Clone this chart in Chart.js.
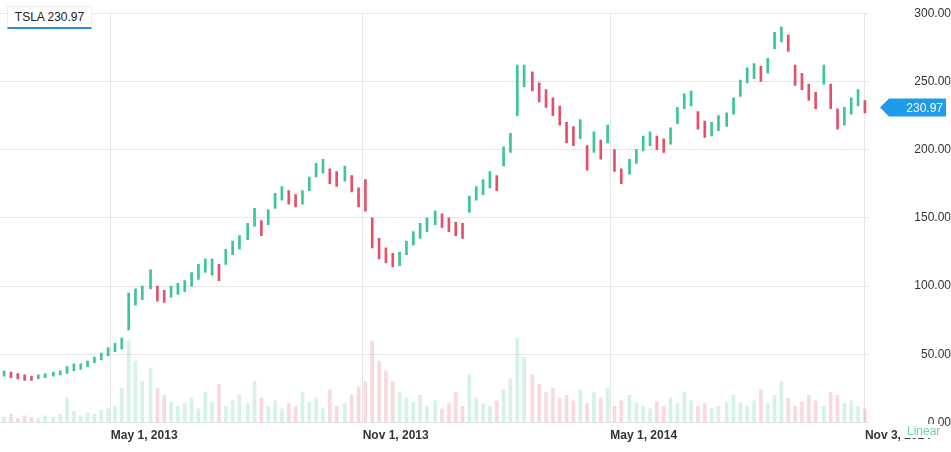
<!DOCTYPE html>
<html>
<head>
<meta charset="utf-8">
<script src="https://cdn.jsdelivr.net/npm/chart.js@4/dist/chart.umd.min.js"></script>
<style>
  body { margin: 0; background: #fff; font-family: "Liberation Sans", Arial, sans-serif; }
  #wrap { position: relative; width: 951px; height: 452px; }
  #title { position: absolute; left: 7px; top: 6px; width: 83px; height: 20px; border: 1px solid #eee;
           border-bottom: 2px solid #2a8fd6; font-size: 12px; color: #222; text-align: center; line-height: 20px; background: #fff; }
  #scaleType { position: absolute; left: 901px; top: 424px; padding-left: 6px; font-size: 12px; color: #6fd0c0; background: #fff; }
</style>
</head>
<body>
<div id="wrap">
  <canvas id="chart" width="951" height="452"></canvas>
  <div id="title">TSLA 230.97</div>
  <div id="scaleType">Linear</div>
</div>
<script>
// trading points, roughly every 5 calendar days from mid Feb 2013 (day 0)
const closes = [36,35,34,33,32,33,34,35,36,38,40,41,43,46,48,52,55,58,85,92,95,105,95,92,96,98,100,105,110,115,
  115,110,122,128,132,140,150,142,150,162,168,165,162,165,175,185,188,180,178,183,175,165,162,140,128,122,118,120,128,135,
  140,145,150,148,145,142,140,160,168,172,178,175,195,205,240,255,250,242,238,232,225,212,210,215,195,205,200,212,192,180,
  188,195,205,208,205,203,210,225,236,238,222,215,215,220,222,232,245,255,258,255,262,280,285,278,255,250,242,236,255,240,
  222,225,232,238,231];
const highs = [38,37,36,35,34,35,36,37,38,41,43,43,45,48,51,55,58,62,95,98,100,112,100,97,100,102,104,110,116,120,
  120,116,127,133,137,146,157,148,156,168,173,170,167,170,180,190,193,186,184,188,181,172,178,150,135,128,124,125,133,140,
  146,150,155,153,150,147,146,166,173,178,184,181,202,212,262,262,257,249,244,238,232,220,217,222,203,213,207,218,200,186,
  193,200,210,213,210,208,216,231,241,243,228,221,220,225,227,238,251,260,263,261,267,286,290,284,262,256,248,242,262,248,
  230,231,238,244,236];
const lows = [34,33,32,31,31,32,33,34,35,36,38,39,41,44,46,49,52,54,68,86,90,98,89,88,92,94,96,100,105,110,
  108,104,116,123,127,134,144,137,145,157,163,160,158,160,170,180,183,175,173,177,169,158,155,128,120,117,114,115,123,130,
  135,140,145,143,140,137,135,154,163,167,172,170,188,198,225,246,243,235,231,225,218,205,203,208,185,198,193,205,184,175,
  182,190,199,203,200,198,204,219,230,232,215,209,210,214,217,226,239,249,252,250,256,274,279,272,247,244,236,230,248,230,
  215,218,226,232,227];
const volumes = [4,6,3,5,4,3,5,4,6,18,8,5,7,6,9,10,12,25,
  60,45,30,40,25,20,15,
  12,14,18,10,22,15,28,12,16,20,14,30,18,12,16,10,14,12,22,15,18,10,24,12,14,20,26,30,
  60,45,38,30,22,18,15,20,
  12,16,10,14,22,12,35,18,14,12,16,24,32,
  62,48,35,28,22,25,18,
  20,16,24,14,22,18,25,12,16,20,14,12,10,15,12,18,14,22,16,12,14,10,12,15,20,14,12,16,24,14,20,30,18,12,15,20,16,12,22,20,14,16,12,10];
const tickDays = [78, 262, 443, 629];
const tickLabels = ['May 1, 2013', 'Nov 1, 2013', 'May 1, 2014', 'Nov 3, 2014'];
const yTicks = [0, 50, 100, 150, 200, 250, 300];
const lastPrice = 230.97;

const UP = '#3cc595', DOWN = '#e4506b';
const UP_VOL = 'rgba(60,197,149,0.22)', DOWN_VOL = 'rgba(228,80,107,0.22)';

const days = closes.map((c, i) => Math.round(i * 629 / (closes.length - 1)));
const isUp = closes.map((c, i) => i === 0 || c >= closes[i - 1]);

const priceTag = {
  id: 'priceTag',
  afterDraw(chart) {
    const ctx = chart.ctx;
    const y = chart.scales.y.getPixelForValue(lastPrice);
    const x0 = 880, x1 = 946;
    ctx.save();
    ctx.fillStyle = '#1e9be9';
    ctx.beginPath();
    ctx.moveTo(x0, y);
    ctx.lineTo(x0 + 9, y - 9);
    ctx.lineTo(x1, y - 9);
    ctx.lineTo(x1, y + 9);
    ctx.lineTo(x0 + 9, y + 9);
    ctx.closePath();
    ctx.fill();
    ctx.fillStyle = '#fff';
    ctx.font = '12px "Liberation Sans", Arial';
    ctx.textAlign = 'right';
    ctx.textBaseline = 'middle';
    ctx.fillText(lastPrice.toFixed(2), x1 - 3, y + 1);
    ctx.restore();
  }
};

new Chart(document.getElementById('chart'), {
  type: 'bar',
  data: {
    datasets: [
      {
        label: 'Price',
        data: days.map((d, i) => ({ x: d, y: [lows[i], highs[i]] })),
        backgroundColor: isUp.map(u => u ? UP : DOWN),
        barThickness: 2,
        grouped: false,
        order: 1
      },
      {
        label: 'Volume',
        data: days.map((d, i) => ({ x: d, y: volumes[i] })),
        backgroundColor: isUp.map(u => u ? UP_VOL : DOWN_VOL),
        barThickness: 3,
        grouped: false,
        order: 2
      }
    ]
  },
  options: {
    responsive: false,
    animation: false,
    layout: { padding: { top: 7, bottom: 3 } },
    plugins: { legend: { display: false }, tooltip: { enabled: false } },
    scales: {
      x: {
        type: 'linear',
        offset: false,
        min: -3,
        max: 632,
        grid: { color: '#e6e6e6', drawTicks: false, offset: false },
        border: { display: false },
        afterBuildTicks: axis => { axis.ticks = tickDays.map(v => ({ value: v })); },
        ticks: {
          align: 'start',
          maxRotation: 0,
          autoSkip: false,
          padding: 6,
          color: '#333',
          font: { family: '"Liberation Sans", Arial', size: 12, weight: 'bold' },
          callback: v => tickLabels[tickDays.indexOf(v)]
        }
      },
      y: {
        position: 'right',
        min: 0,
        max: 300,
        afterBuildTicks: axis => { axis.ticks = yTicks.map(v => ({ value: v })); },
        afterFit: axis => { axis.width = 82; },
        grid: { color: '#e6e6e6', drawTicks: false },
        border: { display: false },
        ticks: {
          crossAlign: 'far',
          padding: 6,
          color: '#333',
          font: { family: '"Liberation Sans", Arial', size: 12 },
          callback: v => v.toFixed(2)
        }
      }
    }
  },
  plugins: [priceTag]
});
</script>
</body>
</html>
